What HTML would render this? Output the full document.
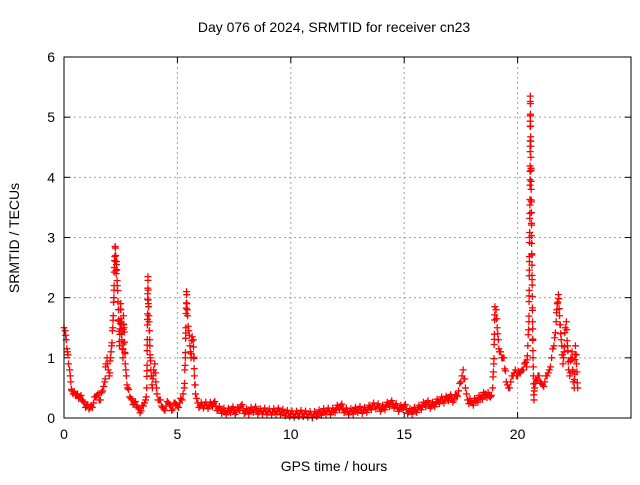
<!DOCTYPE html>
<html><head><meta charset="utf-8"><style>
body{margin:0;background:#fff}
svg text{font-family:"Liberation Sans",sans-serif;font-size:14px;fill:#000}
</style></head><body>
<svg id="chart" width="640" height="480" xmlns="http://www.w3.org/2000/svg">
<rect width="640" height="480" fill="#fff"/>
<text x="334" y="32" text-anchor="middle">Day 076 of 2024, SRMTID for receiver cn23</text>
<g id="grid"></g>
<g id="ticks"></g>
<g id="marks"></g>
<rect x="64" y="57" width="567" height="361" fill="none" stroke="#000" stroke-width="1"/>
<text x="334" y="471" text-anchor="middle">GPS time / hours</text>
<text transform="translate(19,238) rotate(-90)" text-anchor="middle">SRMTID / TECUs</text>
</svg>
<script>
const xTicks=[0,5,10,15,20];
const yTicks=[0,1,2,3,4,5,6];
const times=[0,0.05,0.1,0.15,0.2,0.25,0.3,0.35,0.4,0.5,0.6,0.7,0.8,0.9,1.0,1.1,1.2,1.3,1.4,1.5,1.6,1.7,1.8,1.85,1.9,1.95,2.0,2.05,2.1,2.15,2.2,2.22,2.25,2.28,2.3,2.32,2.35,2.4,2.45,2.5,2.52,2.55,2.6,2.62,2.65,2.7,2.75,2.8,2.9,3.0,3.1,3.2,3.3,3.4,3.5,3.6,3.65,3.7,3.72,3.75,3.78,3.8,3.85,3.9,3.95,4.0,4.05,4.1,4.2,4.3,4.4,4.5,4.6,4.7,4.8,4.9,5.0,5.1,5.2,5.3,5.35,5.4,5.42,5.45,5.5,5.55,5.6,5.65,5.7,5.75,5.8,5.9,6.0,6.2,6.4,6.6,6.8,7.0,7.2,7.4,7.6,7.8,8.0,8.2,8.4,8.6,8.8,9.0,9.2,9.4,9.6,9.8,10.0,10.2,10.4,10.6,10.8,11.0,11.2,11.4,11.6,11.8,12.0,12.2,12.4,12.6,12.8,13.0,13.2,13.4,13.6,13.8,14.0,14.2,14.4,14.6,14.8,15.0,15.2,15.4,15.6,15.8,16.0,16.2,16.4,16.6,16.8,17.0,17.2,17.4,17.5,17.6,17.7,17.8,18.0,18.2,18.4,18.6,18.8,18.9,18.95,19.0,19.05,19.1,19.15,19.2,19.3,19.4,19.5,19.6,19.7,19.8,19.9,20.0,20.1,20.2,20.3,20.4,20.45,20.5,20.52,20.54,20.55,20.56,20.58,20.6,20.62,20.64,20.66,20.68,20.7,20.72,20.75,20.8,20.9,21.0,21.1,21.2,21.3,21.4,21.5,21.6,21.7,21.75,21.8,21.85,21.9,21.95,22.0,22.05,22.1,22.15,22.2,22.25,22.3,22.35,22.4,22.45,22.5,22.55,22.6,22.65,22.7];
const values=[1.5,1.45,1.3,1.1,0.9,0.8,0.6,0.45,0.4,0.38,0.4,0.35,0.3,0.25,0.2,0.15,0.2,0.25,0.35,0.4,0.3,0.45,0.6,0.9,1.0,0.8,0.7,1.0,1.2,1.5,2.0,2.5,2.85,2.7,2.4,2.6,2.2,1.8,1.2,1.9,1.6,1.3,1.0,1.7,1.5,0.9,0.7,0.5,0.35,0.3,0.25,0.2,0.15,0.12,0.2,0.3,0.5,2.35,1.9,1.6,1.3,1.0,0.7,0.5,0.8,0.9,0.6,0.4,0.3,0.2,0.15,0.2,0.25,0.2,0.15,0.25,0.2,0.25,0.3,0.5,1.0,2.1,1.9,1.7,1.45,1.2,1.0,1.35,1.3,0.7,0.4,0.25,0.2,0.22,0.2,0.25,0.15,0.12,0.1,0.15,0.1,0.2,0.1,0.12,0.15,0.1,0.12,0.1,0.1,0.12,0.1,0.08,0.07,0.06,0.08,0.07,0.06,0.05,0.08,0.1,0.12,0.1,0.15,0.2,0.12,0.1,0.12,0.15,0.12,0.15,0.2,0.2,0.15,0.2,0.25,0.2,0.15,0.2,0.1,0.12,0.15,0.2,0.25,0.2,0.25,0.3,0.3,0.35,0.3,0.45,0.6,0.8,0.5,0.3,0.25,0.3,0.35,0.4,0.35,0.5,0.9,1.85,1.8,1.5,1.3,1.1,1.0,1.0,0.6,0.5,0.6,0.7,0.8,0.7,0.75,0.8,0.9,0.85,1.2,1.6,2.6,3.4,4.1,5.35,4.6,3.8,2.9,2.3,1.6,1.0,0.7,0.3,0.5,0.65,0.7,0.6,0.55,0.6,0.7,0.8,1.0,1.2,1.6,1.9,2.05,1.7,1.4,1.2,0.9,1.1,1.5,1.6,1.2,0.8,0.7,1.0,1.1,0.6,0.5,1.2,0.9,0.5];
const X=t=>64+t*(567/25), Y=v=>418-v*(361/6);
const NS='http://www.w3.org/2000/svg';
function mk(tag,attrs,parent){const e=document.createElementNS(NS,tag);for(const k in attrs)e.setAttribute(k,attrs[k]);parent.appendChild(e);return e;}
const grid=document.getElementById('grid'),ticks=document.getElementById('ticks'),marks=document.getElementById('marks');
xTicks.forEach(t=>{
  if(t>0){const g=mk('line',{x1:X(t),x2:X(t),y1:57,y2:418,stroke:'#a0a0a0','stroke-dasharray':'2,3'},grid);
  
  }
  mk('line',{x1:X(t),x2:X(t),y1:418,y2:412,stroke:'#000'},ticks);
  mk('line',{x1:X(t),x2:X(t),y1:57,y2:63,stroke:'#000'},ticks);
  const l=mk('text',{x:X(t),y:439,'text-anchor':'middle'},ticks);l.textContent=t;
  
  
});
yTicks.forEach(v=>{
  if(v>0&&v<6){const g=mk('line',{x1:64,x2:631,y1:Y(v),y2:Y(v),stroke:'#a0a0a0','stroke-dasharray':'2,3'},grid);
  
  }
  mk('line',{x1:64,x2:70,y1:Y(v),y2:Y(v),stroke:'#000'},ticks);
  mk('line',{x1:631,x2:625,y1:Y(v),y2:Y(v),stroke:'#000'},ticks);
  const l=mk('text',{x:55,y:Y(v)+5,'text-anchor':'end'},ticks);l.textContent=v;
  
  
});
let d='';
function plus(x,y){d+=`M${x-3.5},${y}h7M${x},${y-3.5}v7`;}
let c=0;
for(let i=0;i<times.length;i++){
  const x0=X(times[i]),y0=Y(values[i]);plus(x0,y0);
  if(i+1<times.length){const x1=X(times[i+1]),y1=Y(values[i+1]);
    const n=Math.max(1,Math.ceil(Math.max(Math.abs(x1-x0)/1.2,Math.abs(y1-y0)/9)));
    for(let k=1;k<n;k++){c++;const off=(c%3-1)*3;plus(x0+(x1-x0)*k/n,y0+(y1-y0)*k/n+off);}
  }
}
const p=mk('path',{d:d,stroke:'#ff0000','stroke-width':1.3,fill:'none'},marks);


</script>
</body></html>
